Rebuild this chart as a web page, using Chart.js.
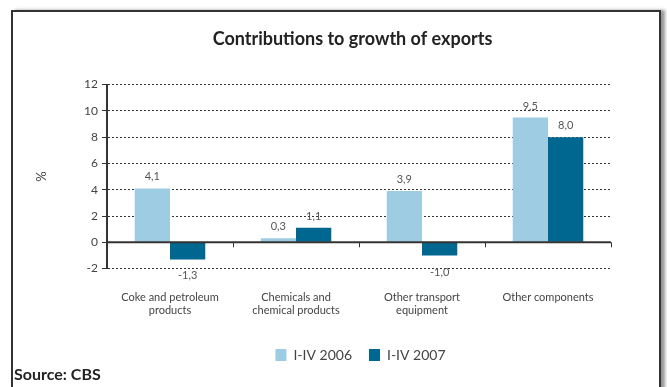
<!DOCTYPE html>
<html>
<head>
<meta charset="utf-8">
<script src="https://cdn.jsdelivr.net/npm/chart.js@4"></script>
<style>
  body { margin: 0; background: #fff; font-family: Lato, sans-serif; }
  .marco {
    position: absolute; left: 11px; top: 10px; width: 646px; height: 400px;
    border: 2px solid #333; box-shadow: 4px 0 3px #999;
  }
  .grafica { position: absolute; left: 0; top: 0; width: 667px; height: 372px; }
  .fuente { position: absolute; left: 14px; top: 364px; font-weight: bold; font-size: 16px; color: #222; }
</style>
</head>
<body>
<div class="marco"></div>
<div class="grafica"><canvas id="myChart"></canvas></div>
<div class="fuente">Source: CBS</div>
<script>
const categorias = [
  ['Coke and petroleum', 'products'],
  ['Chemicals and', 'chemical products'],
  ['Other transport', 'equipment'],
  'Other components'
]
const serie2006 = [4.1, 0.3, 3.9, 9.5]
const serie2007 = [-1.3, 1.1, -1.0, 8.0]
const ticksY = [-2, 0, 2, 4, 6, 8, 10, 12]

const colorClaro = '#9ecde3'
const colorOscuro = '#006890'

// corre titulo y leyenda hacia la derecha (centrados sobre el recuadro)
const moverCajas = {
  id: 'moverCajas',
  afterLayout(chart) {
    if (chart.titleBlock) {
      chart.titleBlock.left += 32
      chart.titleBlock.right += 32
    }
    if (chart.legend) {
      chart.legend.left += 40
      chart.legend.right += 40
    }
  }
}

// linea del cero con marcas entre categorias + etiquetas de valores
const lineaCero = {
  id: 'lineaCero',
  afterDatasetsDraw(chart) {
    const ctx = chart.ctx
    const y = chart.scales.y
    const y0 = y.getPixelForValue(0)
    ctx.save()
    ctx.strokeStyle = '#333'
    ctx.lineWidth = 2
    ctx.beginPath()
    ctx.moveTo(chart.chartArea.left, y0)
    ctx.lineTo(chart.chartArea.right, y0)
    ctx.stroke()
    ctx.lineWidth = 1
    const paso = (chart.chartArea.right - chart.chartArea.left) / categorias.length
    for (let i = 1; i <= categorias.length; i++) {
      const px = Math.round(chart.chartArea.left + paso * i) + 0.5
      ctx.beginPath()
      ctx.moveTo(px, y0)
      ctx.lineTo(px, y0 + 5)
      ctx.stroke()
    }
    ctx.fillStyle = '#555'
    ctx.font = '11px Lato'
    ctx.textAlign = 'center'
    chart.data.datasets.forEach((ds, d) => {
      chart.getDatasetMeta(d).data.forEach((bar, i) => {
        const v = ds.data[i]
        const texto = v.toFixed(1).replace('.', ',')
        if (v >= 0) {
          ctx.textBaseline = 'bottom'
          ctx.fillText(texto, bar.x, bar.y - 6)
        } else {
          ctx.textBaseline = 'top'
          ctx.fillText(texto, bar.x, bar.y + 11)
        }
      })
    })
    ctx.restore()
  }
}

const myChart = new Chart(document.getElementById('myChart'), {
  type: 'bar',
  data: {
    labels: categorias,
    datasets: [{
      label: 'I-IV 2006',
      data: serie2006,
      backgroundColor: colorClaro
    }, {
      label: 'I-IV 2007',
      data: serie2007,
      backgroundColor: colorOscuro
    }]
  },
  options: {
    responsive: true,
    maintainAspectRatio: false,
    animation: false,
    categoryPercentage: 0.56,
    barPercentage: 1,
    layout: { padding: { left: 30, right: 56, top: 0, bottom: 0 } },
    plugins: {
      title: {
        display: true,
        text: 'Contributions to growth of exports',
        color: '#222',
        font: { family: 'Lato', size: 18, weight: 'bold' },
        padding: { top: 28, bottom: 35 }
      },
      legend: {
        position: 'bottom',
        labels: {
          color: '#444',
          font: { family: 'Lato', size: 14 },
          boxWidth: 11,
          boxHeight: 12,
          padding: 17
        }
      },
      tooltip: { enabled: false }
    },
    scales: {
      x: {
        grid: { display: false },
        border: { display: false },
        ticks: {
          color: '#444',
          font: { family: 'Lato', size: 11 },
          maxRotation: 0,
          padding: 14
        }
      },
      y: {
        min: -2,
        max: 12,
        afterBuildTicks: (scale) => { scale.ticks = ticksY.map(v => ({ value: v })) },
        afterFit: (scale) => { scale.width = 77 },
        title: {
          display: true,
          text: '%',
          color: '#444',
          font: { family: 'Lato', size: 13 },
          padding: { bottom: 30 }
        },
        grid: {
          color: '#333',
          lineWidth: 1,
          tickLength: 5,
          tickBorderDash: []
        },
        border: { display: true, color: '#333', width: 2, dash: [2, 2] },
        ticks: {
          color: '#444',
          font: { family: 'Lato', size: 12 },
          padding: 4
        }
      }
    }
  },
  plugins: [moverCajas, lineaCero]
})
</script>
</body>
</html>
